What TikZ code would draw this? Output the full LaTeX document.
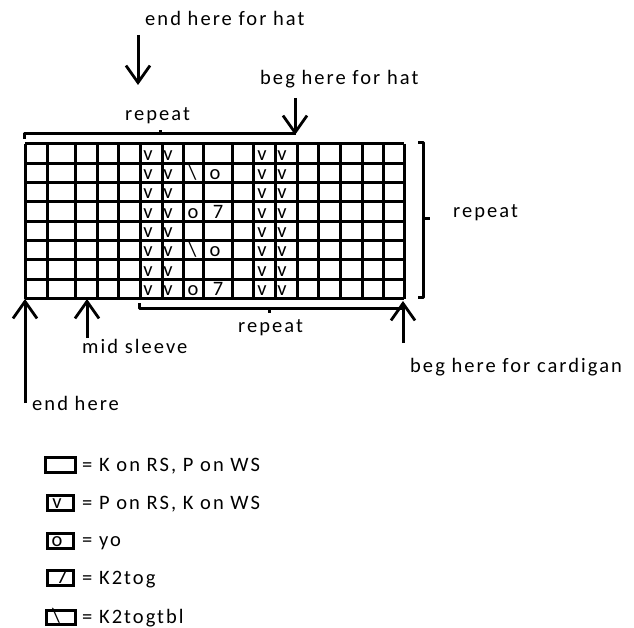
\documentclass[tikz,border=0pt]{standalone}
\usepackage{fontspec}
\setmainfont{Carlito}[LetterSpace=10]
\usetikzlibrary{arrows.meta}
\begin{document}
\begin{tikzpicture}[x=1pt,y=-1pt,
  lbl/.style={anchor=base west,inner sep=0pt,font=\fontsize{20.5}{24}\selectfont},
  cell/.style={anchor=base,inner sep=0pt,font=\fontsize{20.5}{24}\selectfont},
  ln/.style={line width=3.0pt},
  brace/.style={line width=3.0pt,line join=round},
  arr/.style={line width=3.0pt,-{Straight Barb[length=17pt,width=24pt,line width=2.8pt]}},
  lbox/.style={line width=3.0pt}]
\useasboundingbox (0,0) rectangle (634,628);
% grid
\foreach \x in {25,47,75,97,118,140,162,183,203,232,253,275,297,318,340,362,383,404}
  \draw[ln] (\x,144) -- (\x,298.7);
\foreach \r in {0,...,8}
  \draw[ln] (25,{144+19.33*\r}) -- (404,{144+19.33*\r});
% cell symbols
\foreach \r in {0,...,7}{
  \pgfmathsetmacro{\yb}{144+19.33*(\r+1)-3}
  \node[cell] (va\r) at (148,\yb) {v};
  \node[cell] (vb\r) at (168,\yb) {v};
  \node[cell] (vc\r) at (262,\yb) {v};
  \node[cell] (vd\r) at (282,\yb) {v};
}
\foreach \r in {1,5}{
  \pgfmathsetmacro{\yb}{144+19.33*(\r+1)-3}
  \node[cell] (bs\r) at (192.5,\yb) {\textbackslash};
  \node[cell] (yo\r) at (215,\yb) {o};
}
\foreach \r in {3,7}{
  \pgfmathsetmacro{\yb}{144+19.33*(\r+1)-3}
  \node[cell] (yb\r) at (193,\yb) {o};
  \node[cell] (kt\r) at (218,\yb) {7};
}
% labels
\node[lbl] (endhat) at (145,26) {end here for hat};
\node[lbl] (beghat) at (260,85) {beg here for hat};
\node[lbl] (reptop) at (125,121) {repeat};
\node[lbl] (repright) at (453,218) {repeat};
\node[lbl] (repbot) at (238,332) {repeat};
\node[lbl] (midsl) at (82,353) {mid sleeve};
\node[lbl] (begcard) at (410,372) {beg here for cardigan};
\node[lbl] (endhere) at (32,410) {end here};
% braces
\draw[brace] (24,139) -- (24,134) -- (296,134);
\draw[brace] (160,134) -- (160,130);
\draw[brace] (418,143) -- (423,143) -- (423,297) -- (418,297);
\draw[brace] (423,219) -- (430,219);
\draw[brace] (139,303) -- (139,308) -- (404,308);
\draw[brace] (269,308) -- (269,313);
% arrows
\coordinate (a1s) at (138,35);  \coordinate (a1e) at (138,85);
\coordinate (a2s) at (295,98);  \coordinate (a2e) at (295,135);
\coordinate (a3s) at (25,403);  \coordinate (a3e) at (25,299);
\coordinate (a4s) at (87,338);  \coordinate (a4e) at (87,299);
\coordinate (a5s) at (403,343); \coordinate (a5e) at (403,301);
\draw[arr] (a1s) -- (a1e);
\draw[arr] (a2s) -- (a2e);
\draw[arr] (a3s) -- (a3e);
\draw[arr] (a4s) -- (a4e);
\draw[arr] (a5s) -- (a5e);
% legend
\draw[lbox] (45,457) rectangle (75,472);
\node[lbl] (l1) at (82,471) {= K on RS, P on WS};
\draw[lbox] (47,495) rectangle (73,510);
\node[cell] (l2s) at (57,508) {v};
\node[lbl] (l2) at (82,509) {= P on RS, K on WS};
\draw[lbox] (47,533) rectangle (73,548);
\node[cell] (l3s) at (57,546) {o};
\node[lbl] (l3) at (82,546) {= yo};
\draw[lbox] (47,570) rectangle (73,585);
\node[cell] (l4s) at (62,583) {7};
\node[lbl] (l4) at (82,584) {= K2tog};
\draw[lbox] (46,610) rectangle (75,624);
\node[cell] (l5s) at (56,622) {\textbackslash};
\node[lbl] (l5) at (82,623) {= K2togtbl};
\end{tikzpicture}
\end{document}
